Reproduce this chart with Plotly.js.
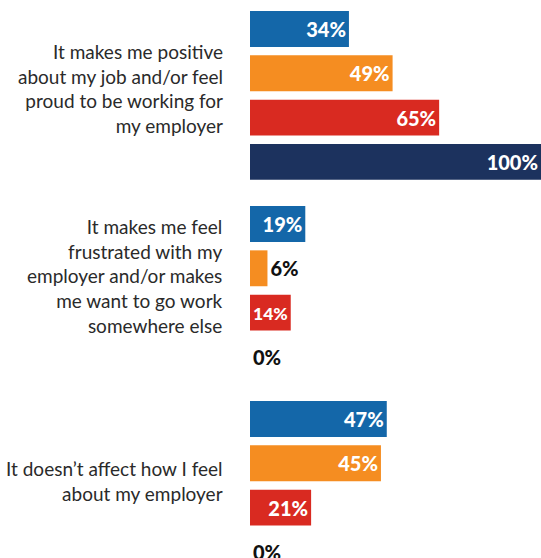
<!DOCTYPE html>
<html>
<head>
<meta charset="utf-8">
<script src="https://cdn.plot.ly/plotly-3.0.1.min.js"></script>
<style>html,body{margin:0;padding:0;background:#fff;}#chart{width:541px;height:558px;}</style>
</head>
<body>
<div id="chart"></div>
<script>
const categories = [
  "It makes me positive<br>about my job and/or feel<br>proud to be working for<br>my employer",
  "It makes me feel<br>frustrated with my<br>employer and/or makes<br>me want to go work<br>somewhere else",
  "It doesn\u2019t affect how I feel<br>about my employer"
];
const seriesNames = ["Series 1", "Series 2", "Series 3", "Series 4"];
const series1 = [34, 19, 47];
const series2 = [49, 6, 45];
const series3 = [65, 14, 21];
const series4 = [100, 0, 0];

const colors = ["#1467A9", "#F58D21", "#D92A21", "#1C325E"];
const allSeries = [series1, series2, series3, series4];
const catKeys = ["c1", "c2", "c3"];
const numFont = {family: "Lato", size: 20, weight: 900};

const traces = allSeries.map((vals, i) => ({
  type: "bar",
  orientation: "h",
  name: seriesNames[i],
  y: catKeys,
  x: vals,
  marker: {color: colors[i]},
  texttemplate: "%{x}%",
  textposition: vals.map(v => v < 10 ? "outside" : "inside"),
  insidetextanchor: "end",
  constraintext: "inside",
  insidetextfont: Object.assign({color: "#ffffff"}, numFont),
  outsidetextfont: Object.assign({color: "#111111"}, numFont),
  cliponaxis: true,
  hoverinfo: "none",
  showlegend: false
}));

const labelShift = [7, 14, 4];
const annotations = categories.map((c, i) => ({
  xref: "paper", yref: "y", x: 0, y: catKeys[i],
  xanchor: "right", yanchor: "middle", align: "right",
  xshift: -25, yshift: labelShift[i],
  text: c, showarrow: false,
  font: {family: "Lato", size: 19, color: "#2a2a2a"}
}));

const layout = {
  width: 541, height: 558,
  margin: {l: 250, r: 0, t: 0, b: 0, pad: 0},
  paper_bgcolor: "#ffffff", plot_bgcolor: "#ffffff",
  barmode: "group",
  bargap: 0.091,
  bargroupgap: 0.19,
  xaxis: {range: [0, 100], visible: false, fixedrange: true},
  yaxis: {type: "category", categoryarray: catKeys, range: [2.372, -0.4895], visible: false, fixedrange: true},
  annotations: annotations,
  font: {family: "Lato"}
};

Plotly.newPlot("chart", traces, layout, {displayModeBar: false, staticPlot: true});
</script>
</body>
</html>
